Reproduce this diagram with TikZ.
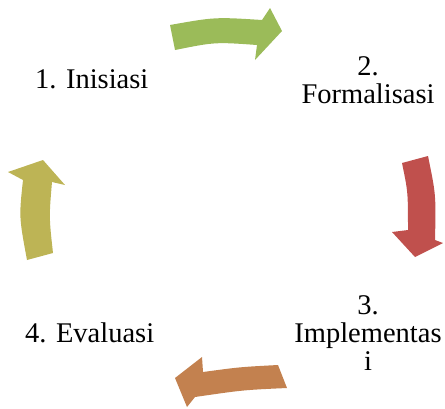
\documentclass[tikz,border=0pt]{standalone}
\usepackage{fontspec}
\setmainfont{Liberation Serif}
\newfontfamily\lblfont{Liberation Serif}
\definecolor{cgreen}{HTML}{9BBB59}
\definecolor{cred}{HTML}{C0504D}
\definecolor{corange}{HTML}{C3814F}
\definecolor{colive}{HTML}{BDB455}
\begin{document}
\begin{tikzpicture}[x=1pt,y=-1pt,
  lbl/.style={inner sep=0pt,font=\lblfont\fontsize{28.5}{28}\selectfont,text=black}]
\useasboundingbox (0,0) rectangle (445,408);
% labels
\node[lbl,anchor=base west] (n1) at (35,88) {1. Inisiasi};
\node[lbl,align=center,anchor=base] (n2) at (368,103) {2.\\Formalisasi};
\node[lbl,align=center,anchor=base] (n3) at (368,370) {3.\\Implementas\\i};
\node[lbl,anchor=base west] (n4) at (25,342) {4. Evaluasi};
% arrows
\fill[cgreen] (170,25) .. controls (215,17) .. (262,20) -- (270,8) -- (282,31) -- (255,60) -- (257,45) .. controls (215,42) .. (175,50) -- cycle;
\fill[cred] (402,163) -- (428,156) .. controls (436,195) .. (435,240) -- (443,243) -- (415,257) -- (392,232) -- (408,230) .. controls (408,192) .. (402,163) -- cycle;
\fill[corange] (278,365) .. controls (240,367) .. (203,372) -- (202,357) -- (175,378) -- (187,407) -- (195,397) .. controls (243,390) .. (287,388) -- cycle;
\fill[colive] (27,260) .. controls (19,217) .. (23,180) -- (8,172) -- (43,160) -- (65,185) -- (52,182) .. controls (49,217) .. (53,253) -- cycle;
\end{tikzpicture}
\end{document}
